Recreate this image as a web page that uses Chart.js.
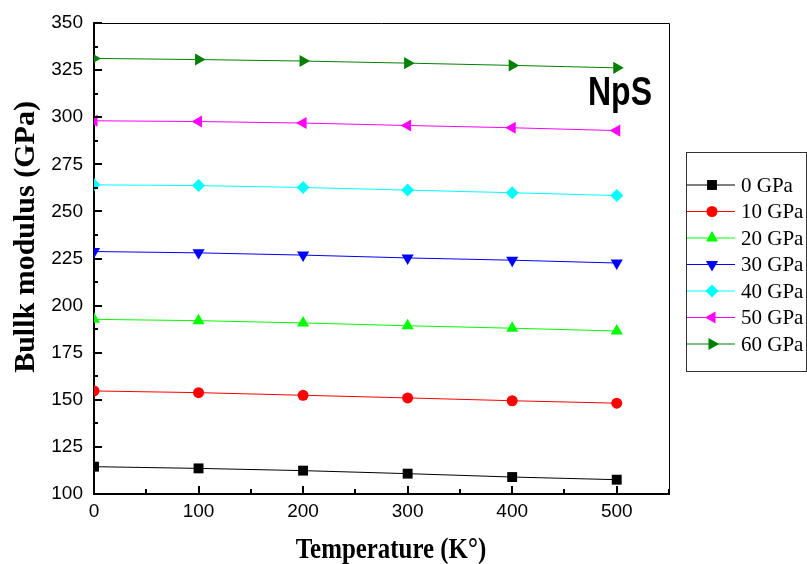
<!DOCTYPE html>
<html>
<head>
<meta charset="utf-8">
<script src="https://cdn.jsdelivr.net/npm/chart.js@4.4.1/dist/chart.umd.min.js"></script>
<style>
  body { margin: 0; background: #fff; }
  #wrap { width: 807px; height: 564px; }
</style>
</head>
<body>
<div id="wrap"><canvas id="chart" width="807" height="564"></canvas></div>
<script>
// temperatures (K)
var temps = [0, 100, 200, 300, 400, 500];

// bulk modulus (GPa) at each pressure
var p0  = [114.5, 113.6, 112.4, 110.8, 109.0, 107.6];
var p10 = [154.7, 153.8, 152.4, 151.0, 149.5, 148.2];
var p20 = [192.7, 192.0, 190.8, 189.3, 188.0, 186.5];
var p30 = [228.7, 228.0, 226.8, 225.3, 224.1, 222.6];
var p40 = [264.1, 263.7, 262.7, 261.3, 259.9, 258.4];
var p50 = [298.1, 297.7, 296.9, 295.6, 294.4, 292.9];
var p60 = [331.2, 330.6, 329.8, 328.7, 327.5, 326.2];

var labels = ['0 GPa', '10 GPa', '20 GPa', '30 GPa', '40 GPa', '50 GPa', '60 GPa'];
var series = [p0, p10, p20, p30, p40, p50, p60];
var colors = ['#000000', '#ff0000', '#00ff00', '#0000ff', '#00ffff', '#ff00ff', '#008000'];
var shapes = ['rect', 'circle', 'triangle', 'triangle', 'rectRot', 'triangle', 'triangle'];
var rots   = [0, 0, 0, 180, 0, 270, 90];
var radii  = [7, 5.5, 7, 7, 6.5, 7, 7];

var tickFont = "'Liberation Sans', Arial, sans-serif";

function pts(ys) {
    return temps.map(function (t, i) { return {x: t, y: ys[i]}; });
}

var datasets = series.map(function (s, i) {
    return {
        label: labels[i],
        data: pts(s),
        borderColor: colors[i],
        backgroundColor: colors[i],
        borderWidth: 1,
        pointStyle: shapes[i],
        pointRotation: rots[i],
        pointRadius: radii[i],
        pointBorderWidth: 0,
        tension: 0
    };
});

// inward ticks, frame, titles, label and boxed legend
var decor = {
    id: 'decor',
    afterDraw: function (chart) {
        var ctx = chart.ctx, a = chart.chartArea;
        var xs = chart.scales.x, ys = chart.scales.y;
        ctx.save();

        // top/right frame
        ctx.strokeStyle = '#000';
        ctx.lineWidth = 1;
        ctx.beginPath();
        ctx.moveTo(a.left, a.top + 0.5);
        ctx.lineTo(a.right + 0.5, a.top + 0.5);
        ctx.lineTo(a.right + 0.5, a.bottom);
        ctx.stroke();

        // ticks pointing into the plot
        ctx.lineWidth = 2;
        ctx.beginPath();
        for (var v = 100; v <= 350; v += 12.5) {
            var py = Math.round(ys.getPixelForValue(v));
            var len = (v % 25 === 0) ? 8 : 4;
            ctx.moveTo(a.left, py);
            ctx.lineTo(a.left + len, py);
        }
        for (var t = 0; t <= 550; t += 50) {
            var px = Math.round(xs.getPixelForValue(t));
            var l2 = (t % 100 === 0) ? 8 : 5;
            ctx.moveTo(px, a.bottom);
            ctx.lineTo(px, a.bottom - l2);
        }
        ctx.stroke();

        // axis titles
        ctx.fillStyle = '#000';
        ctx.textBaseline = 'alphabetic';
        ctx.textAlign = 'center';
        ctx.save();
        ctx.translate(391, 558);
        ctx.scale(0.83, 1);
        ctx.font = "bold 30px 'Liberation Serif', serif";
        ctx.fillText('Temperature (K°)', 0, 0);
        ctx.restore();

        ctx.save();
        ctx.translate(34, 237);
        ctx.rotate(-Math.PI / 2);
        ctx.font = "bold 30px 'Liberation Serif', serif";
        ctx.fillText('Bullk modulus (GPa)', 0, 0);
        ctx.restore();

        // compound label
        ctx.save();
        ctx.textAlign = 'left';
        ctx.translate(588, 105);
        ctx.scale(0.8, 1);
        ctx.font = "bold 40px " + tickFont;
        ctx.fillText('NpS', 0, 0);
        ctx.restore();

        // legend box
        var lx = 686, ly = 152, lw = 120, lh = 219;
        ctx.textAlign = 'left';
        ctx.lineWidth = 1;
        ctx.strokeStyle = '#333';
        ctx.strokeRect(lx + 0.5, ly + 0.5, lw, lh);
        ctx.font = "21px 'Liberation Serif', serif";
        ctx.textBaseline = 'middle';
        chart.data.datasets.forEach(function (ds, i) {
            var cy = 185 + i * 26.5;
            ctx.strokeStyle = ds.borderColor;
            ctx.lineWidth = 1;
            ctx.beginPath();
            ctx.moveTo(lx + 1, cy);
            ctx.lineTo(lx + 49, cy);
            ctx.stroke();
            ctx.fillStyle = ds.backgroundColor;
            Chart.helpers.drawPoint(ctx, {
                pointStyle: ds.pointStyle,
                rotation: ds.pointRotation,
                radius: ds.pointRadius,
                borderWidth: 0
            }, lx + 26, cy);
            ctx.fillStyle = '#000';
            ctx.fillText(ds.label, lx + 55, cy + 1);
        });

        ctx.restore();
    }
};

new Chart(document.getElementById('chart'), {
    type: 'line',
    data: {datasets: datasets},
    options: {
        responsive: false,
        animation: false,
        layout: {padding: {left: 0, top: 23, right: 138, bottom: 0}},
        plugins: {legend: {display: false}, tooltip: {enabled: false}},
        scales: {
            x: {
                type: 'linear',
                min: 0,
                max: 550,
                grid: {display: false, drawTicks: false},
                border: {display: true, color: '#000', width: 2},
                ticks: {
                    stepSize: 100,
                    includeBounds: false,
                    padding: 6,
                    color: '#000',
                    font: {family: tickFont, size: 19}
                },
                afterFit: function (s) { s.height = 70; }
            },
            y: {
                min: 100,
                max: 350,
                grid: {display: false, drawTicks: false},
                border: {display: true, color: '#000', width: 2},
                ticks: {
                    stepSize: 25,
                    padding: 11,
                    color: '#000',
                    font: {family: tickFont, size: 19}
                },
                afterFit: function (s) { s.width = 94; }
            }
        }
    },
    plugins: [decor]
});
</script>
</body>
</html>
